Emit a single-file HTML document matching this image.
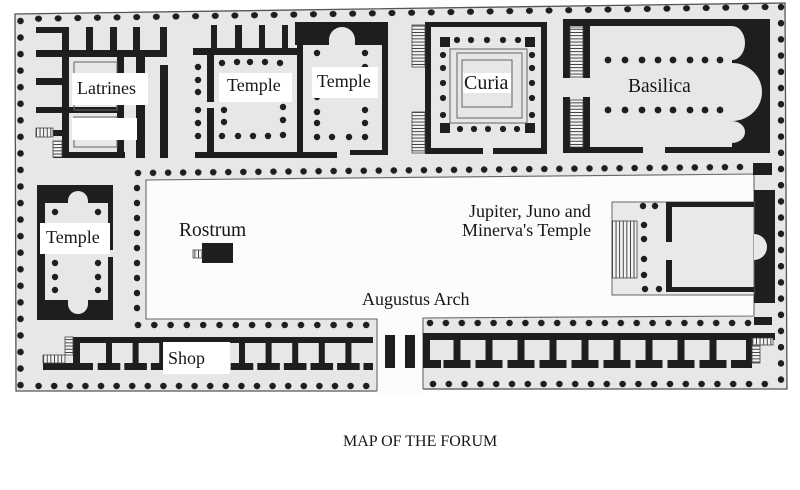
<!DOCTYPE html>
<html><head><meta charset="utf-8"><style>
html,body{margin:0;padding:0;background:#fff;}
svg{display:block}
text{font-family:"Liberation Serif",serif;fill:#161616;}
</style></head><body>
<svg width="800" height="490" viewBox="0 0 800 490" xmlns="http://www.w3.org/2000/svg">
<defs>
<pattern id="hH" patternUnits="userSpaceOnUse" width="10" height="3.2"><rect width="10" height="3.2" fill="#f3f3f3"/><rect y="0" width="10" height="0.9" fill="#333"/></pattern>
<pattern id="hV" patternUnits="userSpaceOnUse" width="3.6" height="10"><rect width="3.6" height="10" fill="#f3f3f3"/><rect x="0" width="0.9" height="10" fill="#333"/></pattern>
<!-- dot rows -->
<pattern id="dA" patternUnits="userSpaceOnUse" x="28.68" y="13.7" width="19.64" height="10"><ellipse cx="9.82" cy="5" rx="3.5" ry="3.1" fill="#1e1e1e"/></pattern>
<pattern id="dB" patternUnits="userSpaceOnUse" x="15.5" y="12.725" width="10" height="16.55"><ellipse cx="5" cy="8.275" rx="3.3" ry="3.3" fill="#1e1e1e"/></pattern>
<pattern id="dC" patternUnits="userSpaceOnUse" x="776" y="-1.1" width="10" height="16.2"><ellipse cx="5" cy="8.1" rx="3.2" ry="3.3" fill="#1e1e1e"/></pattern>
<pattern id="dD" patternUnits="userSpaceOnUse" x="30.8" y="381" width="15.6" height="10"><ellipse cx="7.8" cy="5" rx="3.3" ry="3.2" fill="#1e1e1e"/></pattern>
<pattern id="dE" patternUnits="userSpaceOnUse" x="425.1" y="379" width="15.8" height="10"><ellipse cx="7.9" cy="5" rx="3.3" ry="3.2" fill="#1e1e1e"/></pattern>
<pattern id="dF" patternUnits="userSpaceOnUse" x="129.85" y="320" width="16.3" height="10"><ellipse cx="8.15" cy="5" rx="3.3" ry="3.2" fill="#1e1e1e"/></pattern>
<pattern id="dG" patternUnits="userSpaceOnUse" x="422.05" y="318" width="15.9" height="10"><ellipse cx="7.95" cy="5" rx="3.3" ry="3.2" fill="#1e1e1e"/></pattern>
<pattern id="dH" patternUnits="userSpaceOnUse" x="132" y="180.5" width="10" height="15"><ellipse cx="5" cy="7.5" rx="3.2" ry="3.3" fill="#1e1e1e"/></pattern>
<pattern id="dI" patternUnits="userSpaceOnUse" x="130.475" y="168" width="15.05" height="10"><ellipse cx="7.525" cy="5" rx="3.3" ry="3.2" fill="#1e1e1e"/></pattern>
</defs>

<rect width="800" height="490" fill="#fff"/>
<!-- site base -->
<polygon points="15,14 785,3 787,389 16,391" fill="#e7e7e7"/>
<!-- forum open area -->
<polygon points="146,180 754,174 754,316 423,318 423,396 377,396 377,319 146,319" fill="#fcfcfc"/>
<path d="M377,391 L16,391 L15,14 L785,3 L787,389 L423,389" fill="none" stroke="#555" stroke-width="1.3"/>
<path d="M377,391 L377,319 L146,319 L146,180 L754,174 L754,316 L423,318 L423,389" fill="none" stroke="#666" stroke-width="1.1"/>

<!-- perimeter dot rows -->
<rect x="28.68" y="13.7" width="746.3" height="10" fill="url(#dA)" transform="rotate(-0.92 38.5 18.7)"/>
<rect x="15.5" y="12.725" width="10" height="380.65" fill="url(#dB)"/>
<rect x="776" y="-1.1" width="10" height="388.8" fill="url(#dC)"/>
<rect x="30.8" y="381" width="343.2" height="10" fill="url(#dD)"/>
<rect x="425.1" y="379" width="347.6" height="10" fill="url(#dE)"/>
<rect x="129.85" y="320" width="244.5" height="10" fill="url(#dF)"/>
<rect x="422.05" y="318" width="333.9" height="10" fill="url(#dG)"/>
<rect x="132" y="180.5" width="10" height="135" fill="url(#dH)"/>
<rect x="130.475" y="168" width="617.05" height="10" fill="url(#dI)" transform="rotate(-0.57 138 173)"/>

<g fill="#1e1e1e">
<!-- ===== Latrines ===== -->
<rect x="36" y="27" width="33" height="6"/>
<rect x="86" y="27" width="7" height="30"/>
<rect x="110" y="27" width="7" height="30"/>
<rect x="133" y="27" width="7" height="30"/>
<rect x="160" y="27" width="7" height="30"/>
<rect x="36" y="50" width="131" height="7"/>
<rect x="62" y="27" width="7" height="131"/>
<rect x="36" y="78" width="26" height="7"/>
<rect x="36" y="107" width="88" height="6"/>
<rect x="53" y="130" width="9" height="6"/>
<rect x="53" y="152" width="72" height="6"/>
<rect x="117" y="57" width="7" height="101"/>
<rect x="136" y="57" width="9" height="101"/>
<rect x="160" y="65" width="8" height="93"/>

<!-- ===== Temple 1 ===== -->
<rect x="193" y="48" width="104" height="7"/>
<rect x="211" y="25" width="6" height="25"/>
<rect x="235" y="25" width="7" height="25"/>
<rect x="259" y="25" width="6" height="25"/>
<rect x="282" y="25" width="6" height="25"/>
<rect x="207" y="50" width="7" height="52"/>
<rect x="207" y="108" width="7" height="50"/>
<rect x="195" y="152" width="142" height="6"/>

<!-- ===== Temple 2 ===== -->
<rect x="295" y="22" width="93" height="23"/>
<rect x="297" y="22" width="6" height="133"/>
<rect x="382" y="22" width="6" height="133"/>
<rect x="350" y="150" width="38" height="5"/>

<!-- ===== Curia ===== -->
<rect x="425" y="22" width="122" height="5"/>
<rect x="425" y="22" width="6" height="132"/>
<rect x="541" y="22" width="6" height="132"/>
<rect x="425" y="148" width="58" height="6"/>
<rect x="493" y="148" width="54" height="6"/>
<rect x="440" y="37" width="10" height="10"/>
<rect x="525" y="37" width="10" height="10"/>
<rect x="440" y="123" width="10" height="10"/>
<rect x="525" y="123" width="10" height="10"/>

<!-- ===== Basilica ===== -->
<rect x="563" y="19" width="207" height="7"/>
<rect x="563" y="19" width="7" height="59"/>
<rect x="563" y="97" width="7" height="56"/>
<rect x="583" y="22" width="7" height="56"/>
<rect x="583" y="97" width="7" height="56"/>
<rect x="732" y="19" width="38" height="134"/>
<rect x="563" y="147" width="80" height="6"/>
<rect x="665" y="147" width="105" height="6"/>
<rect x="753" y="163" width="19" height="12"/>

<!-- ===== Left temple ===== -->
<rect x="37" y="185" width="76" height="135"/>

<!-- ===== Rostrum ===== -->
<rect x="202" y="243" width="31" height="20"/>

<!-- ===== Left shops ===== -->
<rect x="73" y="337" width="300" height="6"/>
<rect x="73" y="337" width="7" height="31"/>
<rect x="43" y="363" width="50" height="7"/>
<rect x="106" y="342" width="6" height="22"/><rect x="97.7" y="363" width="22.6" height="7"/>
<rect x="132.6" y="342" width="6" height="22"/><rect x="124.3" y="363" width="22.6" height="7"/>
<rect x="159.2" y="342" width="6" height="22"/><rect x="150.9" y="363" width="22.6" height="7"/>
<rect x="185.8" y="342" width="6" height="22"/><rect x="177.5" y="363" width="22.6" height="7"/>
<rect x="212.4" y="342" width="6" height="22"/><rect x="204.1" y="363" width="22.6" height="7"/>
<rect x="239" y="342" width="6" height="22"/><rect x="230.7" y="363" width="22.6" height="7"/>
<rect x="265.6" y="342" width="6" height="22"/><rect x="257.3" y="363" width="22.6" height="7"/>
<rect x="292.2" y="342" width="6" height="22"/><rect x="283.9" y="363" width="22.6" height="7"/>
<rect x="318.8" y="342" width="6" height="22"/><rect x="310.5" y="363" width="22.6" height="7"/>
<rect x="345.4" y="342" width="6" height="22"/><rect x="337.1" y="363" width="22.6" height="7"/>
<rect x="363.5" y="363" width="9.5" height="7"/>

<!-- ===== Arch ===== -->
<rect x="385" y="335" width="10" height="33"/>
<rect x="405" y="335" width="10" height="33"/>

<!-- ===== Right shops ===== -->
<rect x="423" y="333" width="352" height="7"/>
<rect x="423" y="333" width="7" height="35"/>
<rect x="423" y="360" width="18" height="8"/>
<rect x="453.5" y="340" width="7" height="21"/><rect x="443.5" y="360" width="27" height="8"/>
<rect x="485.5" y="340" width="7" height="21"/><rect x="475.5" y="360" width="27" height="8"/>
<rect x="517.5" y="340" width="7" height="21"/><rect x="507.5" y="360" width="27" height="8"/>
<rect x="549.5" y="340" width="7" height="21"/><rect x="539.5" y="360" width="27" height="8"/>
<rect x="581.5" y="340" width="7" height="21"/><rect x="571.5" y="360" width="27" height="8"/>
<rect x="613.5" y="340" width="7" height="21"/><rect x="603.5" y="360" width="27" height="8"/>
<rect x="645.5" y="340" width="7" height="21"/><rect x="635.5" y="360" width="27" height="8"/>
<rect x="677.5" y="340" width="7" height="21"/><rect x="667.5" y="360" width="27" height="8"/>
<rect x="709.5" y="340" width="7" height="21"/><rect x="699.5" y="360" width="27" height="8"/>
<rect x="731" y="360" width="21" height="8"/>
<rect x="746" y="333" width="6" height="35"/>

<!-- ===== Jupiter temple walls ===== -->
<rect x="754" y="190" width="21" height="113"/>
<rect x="754" y="317" width="18" height="8"/>
</g>

<!-- light cut-outs (apses / interiors) -->
<g fill="#e7e7e7">
<path d="M329,45 L329,40 A13,13 0 0 1 355,40 L355,45 Z"/>
<ellipse cx="732" cy="43" rx="13" ry="17"/>
<ellipse cx="732" cy="92" rx="30" ry="29"/>
<ellipse cx="732" cy="132" rx="13" ry="11"/>
<rect x="720" y="26" width="12" height="121"/>
<rect x="45" y="203" width="63" height="97"/>
<path d="M68,204 L68,201 A10,10 0 0 1 88,201 L88,204 Z"/>
<path d="M68,299 L68,304 A10,10 0 0 0 88,304 L88,299 Z"/>
<rect x="107" y="250" width="7" height="7"/>
</g>

<!-- Jupiter podium -->
<rect x="612" y="202" width="142" height="93" fill="#e9e9e9" stroke="#666" stroke-width="1"/>
<g fill="#1e1e1e">
<rect x="666" y="202" width="88" height="5"/>
<rect x="666" y="202" width="6" height="40"/>
<rect x="666" y="260" width="6" height="32"/>
<rect x="666" y="287" width="88" height="5"/>
</g>
<path d="M754,234 A13,13 0 0 1 754,260 Z" fill="#e9e9e9"/>
<rect x="612" y="221" width="25" height="57" fill="url(#hV)" stroke="#444" stroke-width="0.8"/>

<!-- stairs -->
<g stroke="#444" stroke-width="0.8">
<rect x="412" y="25" width="13" height="42" fill="url(#hH)"/>
<rect x="412" y="112" width="13" height="41" fill="url(#hH)"/>
<rect x="570" y="27" width="13" height="50" fill="url(#hH)"/>
<rect x="570" y="100" width="13" height="47" fill="url(#hH)"/>
<rect x="36" y="128" width="17" height="9" fill="url(#hV)"/>
<rect x="53" y="141" width="9" height="16" fill="url(#hH)"/>
<rect x="193" y="250" width="9" height="8" fill="url(#hV)"/>
<rect x="65" y="337" width="8" height="18" fill="url(#hH)"/>
<rect x="43" y="355" width="22" height="8" fill="url(#hV)"/>
<rect x="752" y="338" width="21" height="7" fill="url(#hV)"/>
<rect x="752" y="345" width="8" height="18" fill="url(#hH)"/>
</g>

<!-- thin outlines -->
<g fill="none" stroke="#666" stroke-width="1">
<rect x="74" y="62" width="43" height="48"/>
<rect x="74" y="117" width="43" height="30"/>
<rect x="450" y="49" width="77" height="74"/>
<rect x="457" y="53" width="65" height="65"/>
<rect x="462" y="60" width="50" height="47"/>
</g>

<!-- building dots -->
<g fill="#1e1e1e">
<!-- temple1 outer left -->
<circle cx="198" cy="67" r="3.2"/><circle cx="198" cy="80" r="3.2"/><circle cx="198" cy="92" r="3.2"/>
<circle cx="198" cy="110" r="3.2"/><circle cx="198" cy="123" r="3.2"/><circle cx="198" cy="136" r="3.2"/>
<!-- temple1 inner -->
<circle cx="222" cy="63" r="3.2"/><circle cx="237" cy="62" r="3.2"/><circle cx="250" cy="62" r="3.2"/><circle cx="265" cy="62" r="3.2"/><circle cx="280" cy="63" r="3.2"/>
<circle cx="224" cy="110" r="3.2"/><circle cx="224" cy="122" r="3.2"/>
<circle cx="222" cy="136" r="3.2"/><circle cx="238" cy="136" r="3.2"/><circle cx="253" cy="136" r="3.2"/><circle cx="268" cy="136" r="3.2"/><circle cx="283" cy="135" r="3.2"/>
<circle cx="283" cy="107" r="3.2"/><circle cx="283" cy="120" r="3.2"/>
<!-- temple2 -->
<circle cx="317" cy="53" r="3.2"/><circle cx="317" cy="97" r="3.2"/><circle cx="317" cy="112" r="3.2"/><circle cx="317" cy="123" r="3.2"/><circle cx="317" cy="137" r="3.2"/>
<circle cx="365" cy="53" r="3.2"/><circle cx="365" cy="67" r="3.2"/><circle cx="365" cy="110" r="3.2"/><circle cx="365" cy="123" r="3.2"/><circle cx="365" cy="137" r="3.2"/>
<circle cx="332" cy="137" r="3.2"/><circle cx="349" cy="137" r="3.2"/>
<!-- curia -->
<circle cx="457" cy="40" r="3.1"/><circle cx="471" cy="40" r="3.1"/><circle cx="487" cy="40" r="3.1"/><circle cx="503" cy="40" r="3.1"/><circle cx="518" cy="40" r="3.1"/>
<circle cx="460" cy="129" r="3.1"/><circle cx="474" cy="129" r="3.1"/><circle cx="488" cy="129" r="3.1"/><circle cx="503" cy="129" r="3.1"/><circle cx="517" cy="129" r="3.1"/>
<circle cx="443" cy="55" r="3.1"/><circle cx="443" cy="68" r="3.1"/><circle cx="443" cy="83" r="3.1"/><circle cx="443" cy="98" r="3.1"/><circle cx="443" cy="115" r="3.1"/>
<circle cx="532" cy="55" r="3.1"/><circle cx="532" cy="68" r="3.1"/><circle cx="532" cy="83" r="3.1"/><circle cx="532" cy="98" r="3.1"/><circle cx="532" cy="115" r="3.1"/>
<!-- basilica -->
<circle cx="608" cy="60" r="3.4"/><circle cx="625" cy="60" r="3.4"/><circle cx="642" cy="60" r="3.4"/><circle cx="658" cy="60" r="3.4"/><circle cx="673" cy="60" r="3.4"/><circle cx="690" cy="60" r="3.4"/><circle cx="705" cy="60" r="3.4"/><circle cx="720" cy="60" r="3.4"/>
<circle cx="608" cy="110" r="3.4"/><circle cx="625" cy="110" r="3.4"/><circle cx="642" cy="110" r="3.4"/><circle cx="658" cy="110" r="3.4"/><circle cx="673" cy="110" r="3.4"/><circle cx="690" cy="110" r="3.4"/><circle cx="705" cy="110" r="3.4"/><circle cx="720" cy="110" r="3.4"/>
<!-- left temple -->
<circle cx="55" cy="212" r="3.2"/><circle cx="55" cy="263" r="3.2"/><circle cx="55" cy="277" r="3.2"/><circle cx="55" cy="290" r="3.2"/>
<circle cx="98" cy="212" r="3.2"/><circle cx="98" cy="263" r="3.2"/><circle cx="98" cy="277" r="3.2"/><circle cx="98" cy="290" r="3.2"/>
<!-- jupiter -->
<circle cx="643" cy="206" r="3.2"/><circle cx="655" cy="206" r="3.2"/>
<circle cx="644" cy="225" r="3.2"/><circle cx="644" cy="239" r="3.2"/><circle cx="644" cy="259" r="3.2"/><circle cx="644" cy="275" r="3.2"/>
<circle cx="645" cy="289" r="3.2"/><circle cx="659" cy="289" r="3.2"/>
</g>

<!-- label boxes -->
<g fill="#fff">
<rect x="72" y="73" width="76" height="32"/>
<rect x="72" y="118" width="65" height="22"/>
<rect x="219" y="73" width="73" height="29"/>
<rect x="312" y="67" width="66" height="31"/>
<rect x="463" y="73" width="48" height="20"/>
<rect x="40" y="223" width="70" height="31"/>
<rect x="163" y="342" width="67" height="32"/>
</g>

<!-- labels -->
<text x="77" y="94" font-size="18">Latrines</text>
<text x="227" y="91" font-size="18">Temple</text>
<text x="317" y="87" font-size="18">Temple</text>
<text x="464" y="89" font-size="20">Curia</text>
<text x="628" y="92" font-size="19.5">Basilica</text>
<text x="46" y="243" font-size="18">Temple</text>
<text x="179" y="236" font-size="19.5">Rostrum</text>
<text x="168" y="364" font-size="18">Shop</text>
<text x="362" y="305" font-size="18">Augustus Arch</text>
<text x="469" y="217" font-size="18">Jupiter, Juno and</text>
<text x="462" y="236" font-size="18">Minerva's Temple</text>
<text x="343" y="446" font-size="16">MAP OF THE FORUM</text>
</svg>
</body></html>
